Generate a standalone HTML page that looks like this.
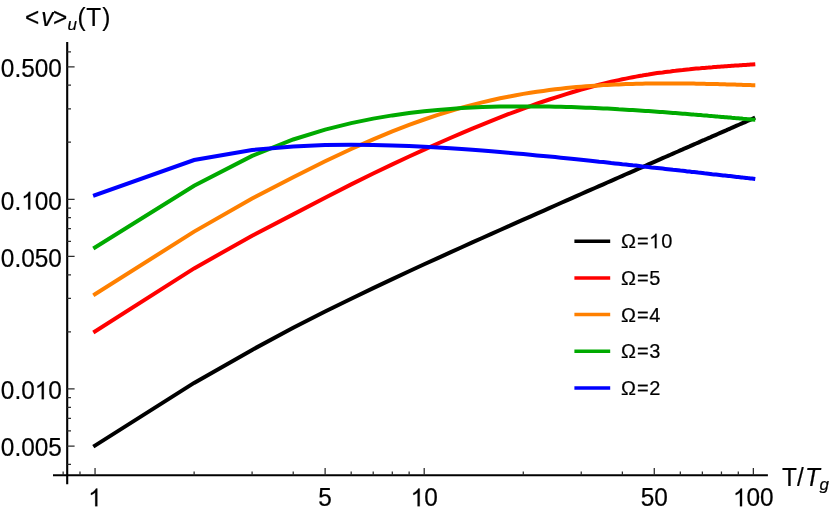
<!DOCTYPE html>
<html><head><meta charset="utf-8"><title>plot</title>
<style>
html,body{margin:0;padding:0;background:#fff;}
body{width:830px;height:514px;overflow:hidden;position:relative;font-family:"Liberation Sans",sans-serif;}
svg text{font-family:"Liberation Sans",sans-serif;fill:#000;stroke:#000;stroke-width:0.2px;stroke-linejoin:round;}
</style></head><body>
<svg width="830" height="514" viewBox="0 0 830 514" style="position:absolute;left:0;top:0;will-change:transform">
<rect width="830" height="514" fill="#fff"/>
<polyline fill="none" stroke="#000000" stroke-width="4.0" stroke-linecap="square" stroke-linejoin="miter" points="95.0,445.6 194.1,382.9 252.1,349.9 293.2,327.8 325.1,311.5 351.2,298.7 373.2,288.1 392.3,279.1 409.1,271.2 424.2,264.3 437.8,258.1 450.3,252.4 461.7,247.2 472.3,242.4 482.2,238.0 491.4,233.9 500.1,230.0 508.2,226.4 516.0,222.9 523.3,219.7 530.3,216.6 536.9,213.6 543.3,210.8 549.3,208.1 555.2,205.5 560.8,203.0 566.2,200.7 571.4,198.4 576.4,196.1 581.2,194.0 585.9,191.9 590.5,189.9 594.9,188.0 599.1,186.1 603.3,184.3 607.3,182.5 611.2,180.8 615.0,179.1 618.7,177.5 622.4,175.9 625.9,174.3 629.3,172.8 632.7,171.3 636.0,169.9 639.2,168.5 642.3,167.1 645.4,165.7 648.4,164.4 651.4,163.1 654.3,161.8 657.1,160.6 659.9,159.4 662.6,158.2 665.3,157.0 667.9,155.9 670.5,154.7 673.0,153.6 675.5,152.5 677.9,151.5 680.3,150.4 682.7,149.4 685.0,148.3 687.3,147.3 689.6,146.4 691.8,145.4 694.0,144.4 696.1,143.5 698.2,142.6 700.3,141.6 702.4,140.7 704.4,139.9 706.4,139.0 708.4,138.1 710.3,137.3 712.2,136.4 714.1,135.6 716.0,134.8 717.8,134.0 719.7,133.2 721.5,132.4 723.2,131.6 725.0,130.8 726.7,130.1 728.4,129.3 730.1,128.6 731.8,127.8 733.4,127.1 735.1,126.4 736.7,125.7 738.3,125.0 739.9,124.3 741.4,123.6 743.0,122.9 744.5,122.3 746.0,121.6 747.5,121.0 749.0,120.3 750.5,119.7 751.9,119.0 753.3,118.4"/>
<polyline fill="none" stroke="#ff0000" stroke-width="4.0" stroke-linecap="square" stroke-linejoin="miter" points="95.0,331.4 194.1,268.4 252.1,235.7 293.2,214.4 325.1,197.7 351.2,184.4 373.2,173.5 392.3,164.4 409.1,156.5 424.2,149.6 437.8,143.5 450.3,138.0 461.7,133.1 472.3,128.6 482.2,124.6 491.4,120.8 500.1,117.4 508.2,114.2 516.0,111.3 523.3,108.6 530.3,106.1 536.9,103.7 543.3,101.5 549.3,99.5 555.2,97.6 560.8,95.8 566.2,94.1 571.4,92.5 576.4,91.0 581.2,89.6 585.9,88.3 590.5,87.0 594.9,85.9 599.1,84.7 603.3,83.7 607.3,82.7 611.2,81.8 615.0,80.9 618.7,80.1 622.4,79.3 625.9,78.6 629.3,77.9 632.7,77.2 636.0,76.6 639.2,76.0 642.3,75.5 645.4,74.9 648.4,74.5 651.4,74.0 654.3,73.5 657.1,73.1 659.9,72.7 662.6,72.4 665.3,72.0 667.9,71.7 670.5,71.4 673.0,71.0 675.5,70.8 677.9,70.5 680.3,70.2 682.7,70.0 685.0,69.7 687.3,69.5 689.6,69.3 691.8,69.0 694.0,68.8 696.1,68.6 698.2,68.4 700.3,68.3 702.4,68.1 704.4,67.9 706.4,67.7 708.4,67.6 710.3,67.4 712.2,67.3 714.1,67.1 716.0,67.0 717.8,66.8 719.7,66.7 721.5,66.6 723.2,66.5 725.0,66.3 726.7,66.2 728.4,66.1 730.1,66.0 731.8,65.8 733.4,65.7 735.1,65.6 736.7,65.5 738.3,65.4 739.9,65.3 741.4,65.2 743.0,65.1 744.5,65.0 746.0,64.9 747.5,64.8 749.0,64.7 750.5,64.6 751.9,64.5 753.3,64.4"/>
<polyline fill="none" stroke="#ff8000" stroke-width="4.0" stroke-linecap="square" stroke-linejoin="miter" points="95.0,294.3 194.1,231.6 252.1,198.6 293.2,177.2 325.1,161.3 351.2,149.0 373.2,139.3 392.3,131.4 409.1,124.9 424.2,119.5 437.8,114.9 450.3,111.0 461.7,107.7 472.3,104.9 482.2,102.4 491.4,100.2 500.1,98.3 508.2,96.7 516.0,95.2 523.3,93.9 530.3,92.8 536.9,91.8 543.3,90.9 549.3,90.1 555.2,89.3 560.8,88.7 566.2,88.1 571.4,87.6 576.4,87.1 581.2,86.7 585.9,86.3 590.5,86.0 594.9,85.7 599.1,85.4 603.3,85.1 607.3,84.9 611.2,84.7 615.0,84.5 618.7,84.4 622.4,84.2 625.9,84.1 629.3,84.0 632.7,83.9 636.0,83.8 639.2,83.7 642.3,83.7 645.4,83.6 648.4,83.5 651.4,83.5 654.3,83.5 657.1,83.5 659.9,83.4 662.6,83.4 665.3,83.4 667.9,83.4 670.5,83.4 673.0,83.4 675.5,83.4 677.9,83.4 680.3,83.5 682.7,83.5 685.0,83.5 687.3,83.5 689.6,83.6 691.8,83.6 694.0,83.6 696.1,83.7 698.2,83.7 700.3,83.7 702.4,83.8 704.4,83.8 706.4,83.9 708.4,83.9 710.3,83.9 712.2,84.0 714.1,84.0 716.0,84.1 717.8,84.1 719.7,84.2 721.5,84.2 723.2,84.3 725.0,84.3 726.7,84.4 728.4,84.4 730.1,84.5 731.8,84.5 733.4,84.6 735.1,84.6 736.7,84.7 738.3,84.7 739.9,84.8 741.4,84.8 743.0,84.9 744.5,84.9 746.0,85.0 747.5,85.0 749.0,85.1 750.5,85.1 751.9,85.2 753.3,85.2"/>
<polyline fill="none" stroke="#00aa00" stroke-width="4.0" stroke-linecap="square" stroke-linejoin="miter" points="95.0,247.4 194.1,185.7 252.1,155.9 293.2,139.5 325.1,129.6 351.2,123.1 373.2,118.6 392.3,115.4 409.1,113.0 424.2,111.3 437.8,109.9 450.3,108.9 461.7,108.1 472.3,107.6 482.2,107.1 491.4,106.8 500.1,106.6 508.2,106.5 516.0,106.4 523.3,106.4 530.3,106.4 536.9,106.4 543.3,106.5 549.3,106.6 555.2,106.7 560.8,106.8 566.2,107.0 571.4,107.1 576.4,107.3 581.2,107.5 585.9,107.7 590.5,107.8 594.9,108.0 599.1,108.2 603.3,108.4 607.3,108.6 611.2,108.8 615.0,109.0 618.7,109.3 622.4,109.5 625.9,109.7 629.3,109.9 632.7,110.1 636.0,110.3 639.2,110.5 642.3,110.7 645.4,110.9 648.4,111.1 651.4,111.3 654.3,111.5 657.1,111.7 659.9,111.9 662.6,112.1 665.3,112.3 667.9,112.5 670.5,112.7 673.0,112.9 675.5,113.1 677.9,113.3 680.3,113.5 682.7,113.7 685.0,113.8 687.3,114.0 689.6,114.2 691.8,114.4 694.0,114.6 696.1,114.7 698.2,114.9 700.3,115.1 702.4,115.3 704.4,115.4 706.4,115.6 708.4,115.8 710.3,115.9 712.2,116.1 714.1,116.2 716.0,116.4 717.8,116.6 719.7,116.7 721.5,116.9 723.2,117.0 725.0,117.2 726.7,117.3 728.4,117.5 730.1,117.6 731.8,117.8 733.4,117.9 735.1,118.1 736.7,118.2 738.3,118.3 739.9,118.5 741.4,118.6 743.0,118.8 744.5,118.9 746.0,119.0 747.5,119.2 749.0,119.3 750.5,119.4 751.9,119.6 753.3,119.7"/>
<polyline fill="none" stroke="#0000ff" stroke-width="4.0" stroke-linecap="square" stroke-linejoin="miter" points="95.0,195.2 194.1,160.0 252.1,150.0 293.2,146.4 325.1,145.0 351.2,144.7 373.2,144.9 392.3,145.4 409.1,146.0 424.2,146.7 437.8,147.5 450.3,148.3 461.7,149.0 472.3,149.8 482.2,150.6 491.4,151.3 500.1,152.0 508.2,152.7 516.0,153.4 523.3,154.1 530.3,154.7 536.9,155.4 543.3,156.0 549.3,156.6 555.2,157.1 560.8,157.7 566.2,158.2 571.4,158.8 576.4,159.3 581.2,159.8 585.9,160.3 590.5,160.7 594.9,161.2 599.1,161.7 603.3,162.1 607.3,162.5 611.2,163.0 615.0,163.4 618.7,163.8 622.4,164.2 625.9,164.5 629.3,164.9 632.7,165.3 636.0,165.6 639.2,166.0 642.3,166.4 645.4,166.7 648.4,167.0 651.4,167.4 654.3,167.7 657.1,168.0 659.9,168.3 662.6,168.6 665.3,168.9 667.9,169.2 670.5,169.5 673.0,169.8 675.5,170.0 677.9,170.3 680.3,170.6 682.7,170.8 685.0,171.1 687.3,171.4 689.6,171.6 691.8,171.9 694.0,172.1 696.1,172.3 698.2,172.6 700.3,172.8 702.4,173.0 704.4,173.3 706.4,173.5 708.4,173.7 710.3,173.9 712.2,174.2 714.1,174.4 716.0,174.6 717.8,174.8 719.7,175.0 721.5,175.2 723.2,175.4 725.0,175.6 726.7,175.8 728.4,176.0 730.1,176.1 731.8,176.3 733.4,176.5 735.1,176.7 736.7,176.9 738.3,177.0 739.9,177.2 741.4,177.4 743.0,177.6 744.5,177.7 746.0,177.9 747.5,178.1 749.0,178.2 750.5,178.4 751.9,178.5 753.3,178.7"/>
<g stroke="#000" stroke-width="2.1" fill="none">
<line x1="67.2" y1="42" x2="67.2" y2="484.2"/>
<line x1="53.0" y1="475.25" x2="767.9" y2="475.25"/>
</g>
<path d="M67.2 446.00h7.4 M67.2 388.92h7.4 M67.2 256.40h7.4 M67.2 199.32h7.4 M67.2 66.80h7.4 M67.2 464.37h3.8 M67.2 430.98h3.8 M67.2 418.29h3.8 M67.2 407.29h3.8 M67.2 397.60h3.8 M67.2 331.84h3.8 M67.2 298.46h3.8 M67.2 274.77h3.8 M67.2 241.38h3.8 M67.2 228.69h3.8 M67.2 217.69h3.8 M67.2 208.00h3.8 M67.2 142.24h3.8 M67.2 108.86h3.8 M67.2 85.17h3.8 M67.2 51.78h3.8 M95.05 475.25v-7.3 M325.12 475.25v-7.3 M424.20 475.25v-7.3 M654.27 475.25v-7.3 M753.35 475.25v-7.3 M63.15 475.25v-3.7 M79.99 475.25v-3.7 M194.13 475.25v-3.7 M252.09 475.25v-3.7 M293.22 475.25v-3.7 M351.18 475.25v-3.7 M373.21 475.25v-3.7 M392.30 475.25v-3.7 M409.14 475.25v-3.7 M523.28 475.25v-3.7 M581.24 475.25v-3.7 M622.37 475.25v-3.7 M680.33 475.25v-3.7 M702.36 475.25v-3.7 M721.45 475.25v-3.7 M738.29 475.25v-3.7" stroke="#2b2b2b" stroke-width="1.25" fill="none"/>
<line x1="574.4" y1="241.2" x2="610.2" y2="241.2" stroke="#000000" stroke-width="3.5"/>
<line x1="574.4" y1="277.9" x2="610.2" y2="277.9" stroke="#ff0000" stroke-width="3.5"/>
<line x1="574.4" y1="314.6" x2="610.2" y2="314.6" stroke="#ff8000" stroke-width="3.5"/>
<line x1="574.4" y1="351.3" x2="610.2" y2="351.3" stroke="#00aa00" stroke-width="3.5"/>
<line x1="574.4" y1="388.0" x2="610.2" y2="388.0" stroke="#0000ff" stroke-width="3.5"/>
<text transform="translate(0.84,456.25) scale(1,1.05)" font-size="24.4" text-anchor="start">0.005</text>
<text transform="translate(0.84,399.17) scale(1,1.05)" font-size="24.4" text-anchor="start">0.0</text><path transform="translate(34.76,399.17) scale(0.01191,-0.01206)" d="M763 0L583 0L583 1147Q518 1085 412.5 1023Q307 961 223 930L223 1104Q374 1175 487 1276Q600 1377 647 1472L763 1472Z" stroke="#000" stroke-width="16.8" stroke-linejoin="round"/><text transform="translate(48.33,399.17) scale(1,1.05)" font-size="24.4" text-anchor="start">0</text>
<text transform="translate(0.84,266.65) scale(1,1.05)" font-size="24.4" text-anchor="start">0.050</text>
<text transform="translate(0.84,209.57) scale(1,1.05)" font-size="24.4" text-anchor="start">0.</text><path transform="translate(21.19,209.57) scale(0.01191,-0.01206)" d="M763 0L583 0L583 1147Q518 1085 412.5 1023Q307 961 223 930L223 1104Q374 1175 487 1276Q600 1377 647 1472L763 1472Z" stroke="#000" stroke-width="16.8" stroke-linejoin="round"/><text transform="translate(34.76,209.57) scale(1,1.05)" font-size="24.4" text-anchor="start">00</text>
<text transform="translate(0.84,77.05) scale(1,1.05)" font-size="24.4" text-anchor="start">0.500</text>
<path transform="translate(88.26,506.30) scale(0.01191,-0.01206)" d="M763 0L583 0L583 1147Q518 1085 412.5 1023Q307 961 223 930L223 1104Q374 1175 487 1276Q600 1377 647 1472L763 1472Z" stroke="#000" stroke-width="16.8" stroke-linejoin="round"/>
<text transform="translate(318.33,506.30) scale(1,1.05)" font-size="24.4" text-anchor="start">5</text>
<path transform="translate(410.63,506.30) scale(0.01191,-0.01206)" d="M763 0L583 0L583 1147Q518 1085 412.5 1023Q307 961 223 930L223 1104Q374 1175 487 1276Q600 1377 647 1472L763 1472Z" stroke="#000" stroke-width="16.8" stroke-linejoin="round"/><text transform="translate(424.20,506.30) scale(1,1.05)" font-size="24.4" text-anchor="start">0</text>
<text transform="translate(640.70,506.30) scale(1,1.05)" font-size="24.4" text-anchor="start">50</text>
<path transform="translate(732.99,506.30) scale(0.01191,-0.01206)" d="M763 0L583 0L583 1147Q518 1085 412.5 1023Q307 961 223 930L223 1104Q374 1175 487 1276Q600 1377 647 1472L763 1472Z" stroke="#000" stroke-width="16.8" stroke-linejoin="round"/><text transform="translate(746.56,506.30) scale(1,1.05)" font-size="24.4" text-anchor="start">00</text>
<text transform="translate(24.90,25.90) scale(1,1.05)" font-size="24.4" text-anchor="start">&lt;</text>
<text transform="translate(41.32,25.90) scale(1,1.05)" font-size="24.4" text-anchor="start"><tspan font-style="italic">v</tspan></text>
<text transform="translate(52.92,25.90) scale(1,1.05)" font-size="24.4" text-anchor="start">&gt;</text>
<text transform="translate(77.46,25.90) scale(1,1.05)" font-size="24.4" text-anchor="start">(</text>
<text transform="translate(86.19,25.90) scale(1,1.05)" font-size="24.4" text-anchor="start">T</text>
<text transform="translate(102.29,25.90) scale(1,1.05)" font-size="24.4" text-anchor="start">)</text>
<text transform="translate(67.40,30.30) scale(1,1.0)" font-size="17" text-anchor="start"><tspan font-style="italic">u</tspan></text>
<text transform="translate(782.00,485.80) scale(1,1.05)" font-size="24.4" text-anchor="start">T</text>
<text transform="translate(796.90,485.80) scale(1,1.05)" font-size="24.4" text-anchor="start">/</text>
<text transform="translate(804.98,485.80) scale(1,1.05)" font-size="24.4" text-anchor="start"><tspan font-style="italic">T</tspan></text>
<text transform="translate(819.50,490.00) scale(1,1.0)" font-size="17" text-anchor="start"><tspan font-style="italic">g</tspan></text>
<text transform="translate(620.90,248.20) scale(1,1.05)" font-size="20" text-anchor="start">Ω</text><text transform="translate(636.95,248.20) scale(1,1.05)" font-size="20" text-anchor="start">=</text><path transform="translate(649.13,248.20) scale(0.00977,-0.00988)" d="M763 0L583 0L583 1147Q518 1085 412.5 1023Q307 961 223 930L223 1104Q374 1175 487 1276Q600 1377 647 1472L763 1472Z" stroke="#000" stroke-width="20.5" stroke-linejoin="round"/><text transform="translate(661.25,248.20) scale(1,1.05)" font-size="20" text-anchor="start">0</text>
<text transform="translate(620.90,284.90) scale(1,1.05)" font-size="20" text-anchor="start">Ω</text><text transform="translate(636.95,284.90) scale(1,1.05)" font-size="20" text-anchor="start">=</text><text transform="translate(649.13,284.90) scale(1,1.05)" font-size="20" text-anchor="start">5</text>
<text transform="translate(620.90,321.60) scale(1,1.05)" font-size="20" text-anchor="start">Ω</text><text transform="translate(636.95,321.60) scale(1,1.05)" font-size="20" text-anchor="start">=</text><text transform="translate(649.13,321.60) scale(1,1.05)" font-size="20" text-anchor="start">4</text>
<text transform="translate(620.90,358.30) scale(1,1.05)" font-size="20" text-anchor="start">Ω</text><text transform="translate(636.95,358.30) scale(1,1.05)" font-size="20" text-anchor="start">=</text><text transform="translate(649.13,358.30) scale(1,1.05)" font-size="20" text-anchor="start">3</text>
<text transform="translate(620.90,395.00) scale(1,1.05)" font-size="20" text-anchor="start">Ω</text><text transform="translate(636.95,395.00) scale(1,1.05)" font-size="20" text-anchor="start">=</text><text transform="translate(649.13,395.00) scale(1,1.05)" font-size="20" text-anchor="start">2</text>
</svg>
</body></html>
